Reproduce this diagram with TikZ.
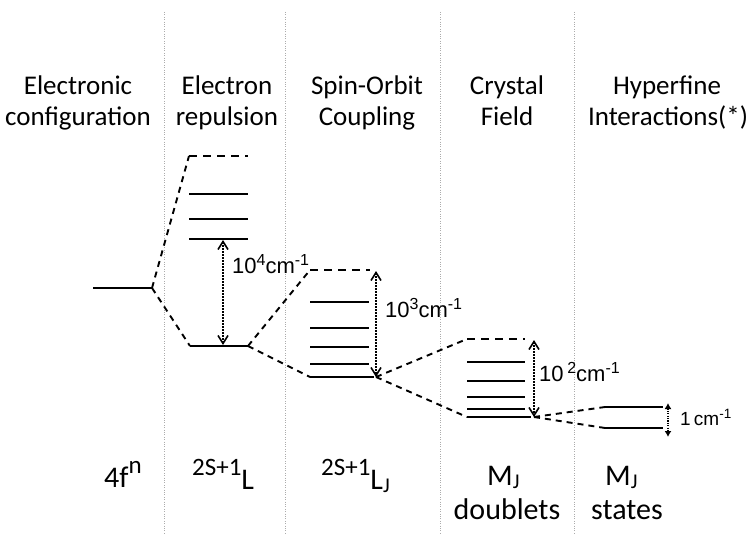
\documentclass[tikz,border=0pt]{standalone}
\usepackage{fontspec}
\setmainfont{Carlito}
\newfontfamily\arialf{Liberation Sans}
\usetikzlibrary{arrows.meta}
\newcommand{\supA}[1]{\raisebox{8pt}{\fontsize{16}{16}\selectfont #1}}
\newcommand{\supB}[1]{\raisebox{7pt}{\fontsize{13.5}{14}\selectfont #1}}
\newcommand{\supL}[1]{\raisebox{14pt}{\fontsize{25}{25}\selectfont #1}}
\newcommand{\subJ}{\raisebox{-3pt}{\fontsize{21}{21}\selectfont J}}
\begin{document}
\begin{tikzpicture}[x=1pt,y=-1pt,
  sep/.style={draw=gray!65, line width=0.7pt, dash pattern=on 1pt off 1.4pt},
  lvl/.style={line width=2pt},
  dlvl/.style={line width=2pt, dash pattern=on 8pt off 6pt},
  conn/.style={line width=1.9pt, dash pattern=on 6pt off 5pt},
  gaparrow/.style={line width=1.8pt, dash pattern=on 1.6pt off 1.4pt,
     {Straight Barb[length=8pt,width=10pt,line width=1.6pt]}-{Straight Barb[length=8pt,width=10pt,line width=1.6pt]}},
  smallarrow/.style={line width=1.3pt, dash pattern=on 1.2pt off 1.2pt,
     {Latex[length=6pt,width=7pt]}-{Latex[length=6pt,width=7pt]}},
  head/.style={font=\fontsize{27}{30}\selectfont, anchor=base, inner sep=0pt},
  big/.style={font=\fontsize{30}{34}\selectfont, anchor=base west, inner sep=0pt},
  bigc/.style={font=\fontsize{30}{34}\selectfont, anchor=base, inner sep=0pt},
  num/.style={font=\arialf\fontsize{22}{24}\selectfont, anchor=base west, inner sep=0pt},
  numsmall/.style={font=\arialf\fontsize{19}{20}\selectfont, anchor=base west, inner sep=0pt}
]
\useasboundingbox (0,0) rectangle (755,535);

% separators
\draw[sep] (164,12) -- (164,535);
\draw[sep] (285,12) -- (285,535);
\draw[sep] (440,12) -- (440,535);
\draw[sep] (574,12) -- (574,535);

% headings
\node[head] (h1a) at (78,94) {Electronic};
\node[head] (h1b) at (78,125) {configuration};
\node[head] (h2a) at (227,94) {Electron};
\node[head] (h2b) at (227,125) {repulsion};
\node[head] (h3a) at (367,94) {Spin-Orbit};
\node[head] (h3b) at (367,125) {Coupling};
\node[head] (h4a) at (507,94) {Crystal};
\node[head] (h4b) at (507,125) {Field};
\node[head] (h5a) at (667,94) {Hyperfine};
\node[head] (h5b) at (668,125) {Interactions(*)};

% column 1
\coordinate (c1l) at (93,288);
\coordinate (c1r) at (152,288);
\draw[lvl] (c1l) -- (c1r);

% column 2
\coordinate (c2tl) at (189,156); \coordinate (c2tr) at (248,156);
\coordinate (c2al) at (189,194); \coordinate (c2ar) at (248,194);
\coordinate (c2bl) at (189,219); \coordinate (c2br) at (248,219);
\coordinate (c2cl) at (189,239); \coordinate (c2cr) at (248,239);
\coordinate (c2ll) at (190,346); \coordinate (c2lr) at (248,346);
\draw[dlvl] (c2tl) -- (c2tr);
\draw[lvl] (c2al) -- (c2ar);
\draw[lvl] (c2bl) -- (c2br);
\draw[lvl] (c2cl) -- (c2cr);
\draw[lvl] (c2ll) -- (c2lr);
\draw[conn] (c1r) -- (c2tl);
\draw[conn] (c1r) -- (c2ll);
\coordinate (a1t) at (223,240); \coordinate (a1b) at (223,345);
\draw[gaparrow] (a1t) -- (a1b);
\node[num] (n1) at (232,273) {10\supA{4}cm\supA{-1}};

% column 3
\coordinate (c3tl) at (310,270); \coordinate (c3tr) at (370,270);
\coordinate (c3al) at (310,302); \coordinate (c3ar) at (369,302);
\coordinate (c3bl) at (310,328); \coordinate (c3br) at (369,328);
\coordinate (c3cl) at (310,347); \coordinate (c3cr) at (369,347);
\coordinate (c3dl) at (310,364); \coordinate (c3dr) at (369,364);
\coordinate (c3ll) at (310,377); \coordinate (c3lr) at (374,377);
\draw[dlvl] (c3tl) -- (c3tr);
\draw[lvl] (c3al) -- (c3ar);
\draw[lvl] (c3bl) -- (c3br);
\draw[lvl] (c3cl) -- (c3cr);
\draw[lvl] (c3dl) -- (c3dr);
\draw[lvl] (c3ll) -- (c3lr);
\draw[conn] (c2lr) -- (c3tl);
\draw[conn] (c2lr) -- (c3ll);
\coordinate (a2t) at (376,271); \coordinate (a2b) at (376,377);
\draw[gaparrow] (a2t) -- (a2b);
\node[num] (n2) at (385,317) {10\supA{3}cm\supA{-1}};

% column 4
\coordinate (c4tl) at (467,339); \coordinate (c4tr) at (525,339);
\coordinate (c4al) at (467,362); \coordinate (c4ar) at (525,362);
\coordinate (c4bl) at (467,381); \coordinate (c4br) at (525,381);
\coordinate (c4cl) at (467,397); \coordinate (c4cr) at (525,397);
\coordinate (c4dl) at (467,409); \coordinate (c4dr) at (525,409);
\coordinate (c4ll) at (467,417); \coordinate (c4lr) at (531,417);
\draw[dlvl] (c4tl) -- (c4tr);
\draw[lvl] (c4al) -- (c4ar);
\draw[lvl] (c4bl) -- (c4br);
\draw[lvl] (c4cl) -- (c4cr);
\draw[lvl] (c4dl) -- (c4dr);
\draw[lvl] (c4ll) -- (c4lr);
\draw[conn] (a2b) -- (c4tl);
\draw[conn] (a2b) -- (c4ll);
\coordinate (a3t) at (534,340); \coordinate (a3b) at (534,417);
\draw[gaparrow] (a3t) -- (a3b);
\node[num] (n3) at (539,381) {10\,\supA{2}cm\supA{-1}};

% column 5
\coordinate (c5al) at (605,407); \coordinate (c5ar) at (663,407);
\coordinate (c5bl) at (605,428); \coordinate (c5br) at (663,428);
\draw[lvl] (c5al) -- (c5ar);
\draw[lvl] (c5bl) -- (c5br);
\draw[conn] (a3b) -- (c5al);
\draw[conn] (a3b) -- (c5bl);
\coordinate (a4t) at (668,403); \coordinate (a4b) at (668,437);
\draw[smallarrow] (a4t) -- (a4b);
\node[numsmall] (n4) at (680,425) {1\,cm\supB{-1}};

% bottom labels
\node[big] (b1) at (104,487) {4f\supL{n}};
\node[big] (b2) at (192,489) {\supL{2S+1}L};
\node[big] (b3) at (321,489) {\supL{2S+1}L\subJ};
\node[big] (b4) at (487,485) {M\subJ};
\node[bigc] (b4b) at (507,519) {doublets};
\node[big] (b5) at (605,485) {M\subJ};
\node[bigc] (b5b) at (627,519) {states};
\end{tikzpicture}
\end{document}
